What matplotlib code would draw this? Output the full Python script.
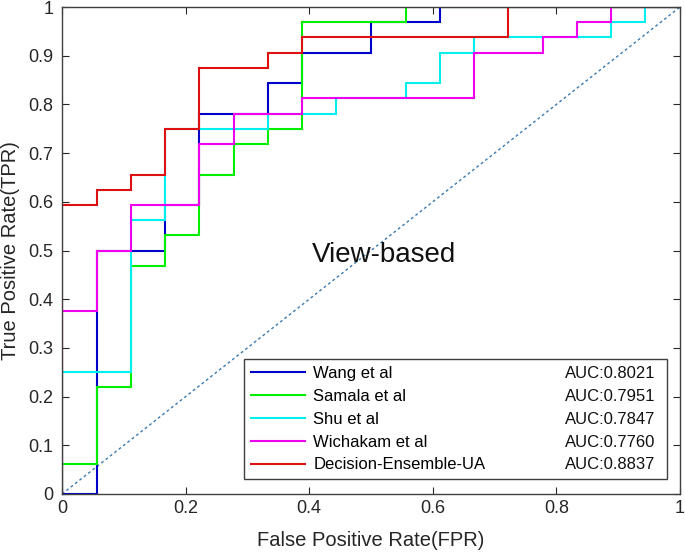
import matplotlib
matplotlib.use("Agg")
import matplotlib.pyplot as plt

plt.rcParams['font.family'] = ['Liberation Sans', 'DejaVu Sans']

# ---- data (ROC vertices) ----
names = ["Wang et al", "Samala et al", "Shu et al", "Wichakam et al", "Decision-Ensemble-UA"]
aucs = ["AUC:0.8021", "AUC:0.7951", "AUC:0.7847", "AUC:0.7760", "AUC:0.8837"]

wang_fpr = [0, 0.056, 0.056, 0.167, 0.167, 0.222, 0.222, 0.333, 0.333, 0.389, 0.389, 0.5, 0.5, 0.611, 0.611, 1]
wang_tpr = [0, 0, 0.5, 0.5, 0.594, 0.594, 0.781, 0.781, 0.844, 0.844, 0.906, 0.906, 0.969, 0.969, 1, 1]

samala_fpr = [0, 0, 0.056, 0.056, 0.111, 0.111, 0.167, 0.167, 0.222, 0.222, 0.278, 0.278, 0.333, 0.333, 0.389, 0.389, 0.556, 0.556, 1]
samala_tpr = [0, 0.0625, 0.0625, 0.219, 0.219, 0.469, 0.469, 0.531, 0.531, 0.656, 0.656, 0.719, 0.719, 0.75, 0.75, 0.969, 0.969, 1, 1]

shu_fpr = [0, 0, 0.111, 0.111, 0.167, 0.167, 0.333, 0.333, 0.444, 0.444, 0.556, 0.556, 0.611, 0.611, 0.667, 0.667, 0.889, 0.889, 0.944, 0.944, 1]
shu_tpr = [0, 0.25, 0.25, 0.5625, 0.5625, 0.75, 0.75, 0.781, 0.781, 0.8125, 0.8125, 0.844, 0.844, 0.906, 0.906, 0.938, 0.938, 0.969, 0.969, 1, 1]

wich_fpr = [0, 0, 0.056, 0.056, 0.111, 0.111, 0.222, 0.222, 0.278, 0.278, 0.389, 0.389, 0.667, 0.667, 0.778, 0.778, 0.833, 0.833, 0.889, 0.889, 1]
wich_tpr = [0, 0.375, 0.375, 0.5, 0.5, 0.594, 0.594, 0.719, 0.719, 0.781, 0.781, 0.8125, 0.8125, 0.906, 0.906, 0.938, 0.938, 0.969, 0.969, 1, 1]

dea_fpr = [0, 0, 0.056, 0.056, 0.111, 0.111, 0.167, 0.167, 0.222, 0.222, 0.333, 0.333, 0.389, 0.389, 0.722, 0.722, 1]
dea_tpr = [0, 0.594, 0.594, 0.625, 0.625, 0.656, 0.656, 0.75, 0.75, 0.875, 0.875, 0.906, 0.906, 0.938, 0.938, 1, 1]

chance = [0, 1]

xticks = [0, 0.2, 0.4, 0.6, 0.8, 1]
xticklabels = ["0", "0.2", "0.4", "0.6", "0.8", "1"]
yticks = [0, 0.1, 0.2, 0.3, 0.4, 0.5, 0.6, 0.7, 0.8, 0.9, 1]
yticklabels = ["0", "0.1", "0.2", "0.3", "0.4", "0.5", "0.6", "0.7", "0.8", "0.9", "1"]

colors = ["#0000c8", "#00ee00", "#00f0f0", "#ee00ee", "#dd1111"]

fig = plt.figure(figsize=(6.85, 5.56), dpi=100)
ax = fig.add_axes([62/685, (556-494)/556, 618/685, 487/556])

ax.plot(chance, chance, linestyle=(0, (2.0, 2.0)), color="#3a78b0", lw=1.0)
series = [(wang_fpr, wang_tpr), (samala_fpr, samala_tpr), (shu_fpr, shu_tpr),
          (wich_fpr, wich_tpr), (dea_fpr, dea_tpr)]
handles = []
for (fx, ty), c, n in zip(series, colors, names):
    h, = ax.plot(fx, ty, color=c, lw=1.5, label=n, solid_joinstyle='miter')
    handles.append(h)

ax.set_xlim(0, 1)
ax.set_ylim(0, 1)
ax.set_xticks(xticks)
ax.set_xticklabels(xticklabels)
ax.set_yticks(yticks)
ax.set_yticklabels(yticklabels)
ax.tick_params(direction='in', length=5, width=0.8, colors='#262626', labelsize=13,
               top=True, right=True, pad=4.5, labelcolor='#262626')
ax.tick_params(axis='y', pad=6.3)
for s in ax.spines.values():
    s.set_color('#404040')
    s.set_linewidth(1.0)

ax.set_xlabel("False Positive Rate(FPR)", fontsize=14.5, color='#262626', labelpad=10)
ax.set_ylabel("True Positive Rate(TPR)", fontsize=14.5, color='#262626', labelpad=5.5)

ax.text(0.521, 0.477, "View-based", fontsize=20, ha='center', va='baseline', color='#111111')

leg = ax.legend(handles=handles, loc='lower left',
                bbox_to_anchor=(0.2945, 0.0308, 0.6845, 0.25), mode='expand',
                fontsize=12, handlelength=3.23, handletextpad=0.52, labelspacing=0.47,
                borderpad=0.4, borderaxespad=0, fancybox=False, framealpha=1,
                edgecolor='#404040')
leg.get_frame().set_linewidth(1.0)

fig.canvas.draw()
inv = ax.transAxes.inverted()
for t, a in zip(leg.get_texts(), aucs):
    bb = t.get_window_extent()
    yc = (bb.y0 + bb.y1) / 2
    ya = inv.transform((0, yc))[1]
    ax.text(0.814, ya, a, fontsize=12, ha='left', va='center', color='#111111', zorder=10)

fig.savefig("out.png", dpi=100)
